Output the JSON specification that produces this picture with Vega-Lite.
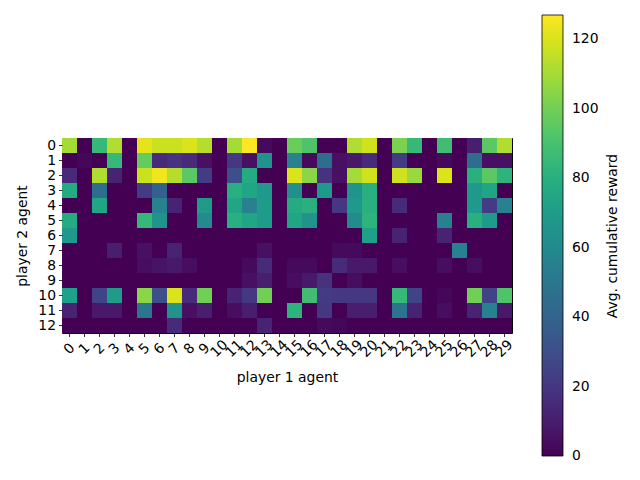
{
  "$schema": "https://vega.github.io/schema/vega-lite/v6.json",
  "width": 450,
  "height": 195,
  "autosize": {"type": "none"},
  "padding": {"left": 62, "top": 138, "right": 128, "bottom": 147},
  "config": {
    "font": "DejaVu Sans",
    "view": {"stroke": "black", "strokeWidth": 1},
    "axis": {"labelFont": "DejaVu Sans", "titleFont": "DejaVu Sans", "labelFontSize": 13.9, "titleFontSize": 13.9, "titleFontWeight": "normal", "labelColor": "black", "titleColor": "black", "tickColor": "black", "tickSize": 3.5, "tickWidth": 0.8, "domain": false, "grid": false},
    "legend": {"labelFont": "DejaVu Sans", "titleFont": "DejaVu Sans", "labelFontSize": 13.9, "titleFontSize": 13.9, "titleFontWeight": "normal", "labelColor": "black", "titleColor": "black"}
  },
  "data": {"values": [
{"p1":0,"p2":0,"reward":110},{"p1":1,"p2":0,"reward":0},{"p1":2,"p2":0,"reward":85},{"p1":3,"p2":0,"reward":112},{"p1":4,"p2":0,"reward":0},{"p1":5,"p2":0,"reward":122},{"p1":6,"p2":0,"reward":117},{"p1":7,"p2":0,"reward":117},{"p1":8,"p2":0,"reward":120},{"p1":9,"p2":0,"reward":113},{"p1":10,"p2":0,"reward":0},{"p1":11,"p2":0,"reward":110},{"p1":12,"p2":0,"reward":127},{"p1":13,"p2":0,"reward":3},{"p1":14,"p2":0,"reward":0},{"p1":15,"p2":0,"reward":98},{"p1":16,"p2":0,"reward":92},{"p1":17,"p2":0,"reward":0},{"p1":18,"p2":0,"reward":0},{"p1":19,"p2":0,"reward":112},{"p1":20,"p2":0,"reward":118},{"p1":21,"p2":0,"reward":0},{"p1":22,"p2":0,"reward":102},{"p1":23,"p2":0,"reward":85},{"p1":24,"p2":0,"reward":0},{"p1":25,"p2":0,"reward":88},{"p1":26,"p2":0,"reward":0},{"p1":27,"p2":0,"reward":10},{"p1":28,"p2":0,"reward":95},{"p1":29,"p2":0,"reward":112},
{"p1":0,"p2":1,"reward":0},{"p1":1,"p2":1,"reward":2},{"p1":2,"p2":1,"reward":0},{"p1":3,"p2":1,"reward":85},{"p1":4,"p2":1,"reward":0},{"p1":5,"p2":1,"reward":97},{"p1":6,"p2":1,"reward":15},{"p1":7,"p2":1,"reward":18},{"p1":8,"p2":1,"reward":15},{"p1":9,"p2":1,"reward":5},{"p1":10,"p2":1,"reward":0},{"p1":11,"p2":1,"reward":20},{"p1":12,"p2":1,"reward":5},{"p1":13,"p2":1,"reward":65},{"p1":14,"p2":1,"reward":0},{"p1":15,"p2":1,"reward":55},{"p1":16,"p2":1,"reward":3},{"p1":17,"p2":1,"reward":45},{"p1":18,"p2":1,"reward":5},{"p1":19,"p2":1,"reward":8},{"p1":20,"p2":1,"reward":15},{"p1":21,"p2":1,"reward":0},{"p1":22,"p2":1,"reward":22},{"p1":23,"p2":1,"reward":0},{"p1":24,"p2":1,"reward":0},{"p1":25,"p2":1,"reward":3},{"p1":26,"p2":1,"reward":0},{"p1":27,"p2":1,"reward":45},{"p1":28,"p2":1,"reward":5},{"p1":29,"p2":1,"reward":5},
{"p1":0,"p2":2,"reward":15},{"p1":1,"p2":2,"reward":0},{"p1":2,"p2":2,"reward":112},{"p1":3,"p2":2,"reward":12},{"p1":4,"p2":2,"reward":0},{"p1":5,"p2":2,"reward":117},{"p1":6,"p2":2,"reward":124},{"p1":7,"p2":2,"reward":113},{"p1":8,"p2":2,"reward":95},{"p1":9,"p2":2,"reward":22},{"p1":10,"p2":2,"reward":0},{"p1":11,"p2":2,"reward":30},{"p1":12,"p2":2,"reward":78},{"p1":13,"p2":2,"reward":0},{"p1":14,"p2":2,"reward":0},{"p1":15,"p2":2,"reward":120},{"p1":16,"p2":2,"reward":105},{"p1":17,"p2":2,"reward":18},{"p1":18,"p2":2,"reward":5},{"p1":19,"p2":2,"reward":110},{"p1":20,"p2":2,"reward":118},{"p1":21,"p2":2,"reward":0},{"p1":22,"p2":2,"reward":118},{"p1":23,"p2":2,"reward":108},{"p1":24,"p2":2,"reward":0},{"p1":25,"p2":2,"reward":120},{"p1":26,"p2":2,"reward":0},{"p1":27,"p2":2,"reward":80},{"p1":28,"p2":2,"reward":95},{"p1":29,"p2":2,"reward":82},
{"p1":0,"p2":3,"reward":78},{"p1":1,"p2":3,"reward":0},{"p1":2,"p2":3,"reward":45},{"p1":3,"p2":3,"reward":0},{"p1":4,"p2":3,"reward":0},{"p1":5,"p2":3,"reward":22},{"p1":6,"p2":3,"reward":38},{"p1":7,"p2":3,"reward":0},{"p1":8,"p2":3,"reward":0},{"p1":9,"p2":3,"reward":0},{"p1":10,"p2":3,"reward":0},{"p1":11,"p2":3,"reward":80},{"p1":12,"p2":3,"reward":75},{"p1":13,"p2":3,"reward":68},{"p1":14,"p2":3,"reward":0},{"p1":15,"p2":3,"reward":62},{"p1":16,"p2":3,"reward":0},{"p1":17,"p2":3,"reward":68},{"p1":18,"p2":3,"reward":0},{"p1":19,"p2":3,"reward":65},{"p1":20,"p2":3,"reward":80},{"p1":21,"p2":3,"reward":0},{"p1":22,"p2":3,"reward":0},{"p1":23,"p2":3,"reward":0},{"p1":24,"p2":3,"reward":0},{"p1":25,"p2":3,"reward":0},{"p1":26,"p2":3,"reward":0},{"p1":27,"p2":3,"reward":68},{"p1":28,"p2":3,"reward":75},{"p1":29,"p2":3,"reward":0},
{"p1":0,"p2":4,"reward":0},{"p1":1,"p2":4,"reward":0},{"p1":2,"p2":4,"reward":75},{"p1":3,"p2":4,"reward":0},{"p1":4,"p2":4,"reward":0},{"p1":5,"p2":4,"reward":0},{"p1":6,"p2":4,"reward":55},{"p1":7,"p2":4,"reward":12},{"p1":8,"p2":4,"reward":0},{"p1":9,"p2":4,"reward":70},{"p1":10,"p2":4,"reward":0},{"p1":11,"p2":4,"reward":75},{"p1":12,"p2":4,"reward":55},{"p1":13,"p2":4,"reward":70},{"p1":14,"p2":4,"reward":0},{"p1":15,"p2":4,"reward":78},{"p1":16,"p2":4,"reward":80},{"p1":17,"p2":4,"reward":0},{"p1":18,"p2":4,"reward":20},{"p1":19,"p2":4,"reward":68},{"p1":20,"p2":4,"reward":80},{"p1":21,"p2":4,"reward":0},{"p1":22,"p2":4,"reward":15},{"p1":23,"p2":4,"reward":0},{"p1":24,"p2":4,"reward":0},{"p1":25,"p2":4,"reward":0},{"p1":26,"p2":4,"reward":0},{"p1":27,"p2":4,"reward":68},{"p1":28,"p2":4,"reward":22},{"p1":29,"p2":4,"reward":55},
{"p1":0,"p2":5,"reward":78},{"p1":1,"p2":5,"reward":0},{"p1":2,"p2":5,"reward":0},{"p1":3,"p2":5,"reward":0},{"p1":4,"p2":5,"reward":0},{"p1":5,"p2":5,"reward":85},{"p1":6,"p2":5,"reward":65},{"p1":7,"p2":5,"reward":0},{"p1":8,"p2":5,"reward":0},{"p1":9,"p2":5,"reward":60},{"p1":10,"p2":5,"reward":0},{"p1":11,"p2":5,"reward":80},{"p1":12,"p2":5,"reward":75},{"p1":13,"p2":5,"reward":70},{"p1":14,"p2":5,"reward":0},{"p1":15,"p2":5,"reward":75},{"p1":16,"p2":5,"reward":65},{"p1":17,"p2":5,"reward":0},{"p1":18,"p2":5,"reward":0},{"p1":19,"p2":5,"reward":60},{"p1":20,"p2":5,"reward":82},{"p1":21,"p2":5,"reward":0},{"p1":22,"p2":5,"reward":0},{"p1":23,"p2":5,"reward":0},{"p1":24,"p2":5,"reward":0},{"p1":25,"p2":5,"reward":55},{"p1":26,"p2":5,"reward":0},{"p1":27,"p2":5,"reward":80},{"p1":28,"p2":5,"reward":70},{"p1":29,"p2":5,"reward":0},
{"p1":0,"p2":6,"reward":68},{"p1":1,"p2":6,"reward":0},{"p1":2,"p2":6,"reward":0},{"p1":3,"p2":6,"reward":0},{"p1":4,"p2":6,"reward":0},{"p1":5,"p2":6,"reward":0},{"p1":6,"p2":6,"reward":0},{"p1":7,"p2":6,"reward":0},{"p1":8,"p2":6,"reward":0},{"p1":9,"p2":6,"reward":0},{"p1":10,"p2":6,"reward":0},{"p1":11,"p2":6,"reward":0},{"p1":12,"p2":6,"reward":0},{"p1":13,"p2":6,"reward":0},{"p1":14,"p2":6,"reward":0},{"p1":15,"p2":6,"reward":0},{"p1":16,"p2":6,"reward":0},{"p1":17,"p2":6,"reward":0},{"p1":18,"p2":6,"reward":0},{"p1":19,"p2":6,"reward":0},{"p1":20,"p2":6,"reward":72},{"p1":21,"p2":6,"reward":0},{"p1":22,"p2":6,"reward":12},{"p1":23,"p2":6,"reward":0},{"p1":24,"p2":6,"reward":0},{"p1":25,"p2":6,"reward":12},{"p1":26,"p2":6,"reward":0},{"p1":27,"p2":6,"reward":0},{"p1":28,"p2":6,"reward":0},{"p1":29,"p2":6,"reward":0},
{"p1":0,"p2":7,"reward":0},{"p1":1,"p2":7,"reward":0},{"p1":2,"p2":7,"reward":0},{"p1":3,"p2":7,"reward":10},{"p1":4,"p2":7,"reward":0},{"p1":5,"p2":7,"reward":5},{"p1":6,"p2":7,"reward":0},{"p1":7,"p2":7,"reward":12},{"p1":8,"p2":7,"reward":0},{"p1":9,"p2":7,"reward":0},{"p1":10,"p2":7,"reward":0},{"p1":11,"p2":7,"reward":0},{"p1":12,"p2":7,"reward":0},{"p1":13,"p2":7,"reward":5},{"p1":14,"p2":7,"reward":0},{"p1":15,"p2":7,"reward":0},{"p1":16,"p2":7,"reward":0},{"p1":17,"p2":7,"reward":0},{"p1":18,"p2":7,"reward":3},{"p1":19,"p2":7,"reward":3},{"p1":20,"p2":7,"reward":0},{"p1":21,"p2":7,"reward":0},{"p1":22,"p2":7,"reward":0},{"p1":23,"p2":7,"reward":0},{"p1":24,"p2":7,"reward":0},{"p1":25,"p2":7,"reward":0},{"p1":26,"p2":7,"reward":55},{"p1":27,"p2":7,"reward":0},{"p1":28,"p2":7,"reward":0},{"p1":29,"p2":7,"reward":0},
{"p1":0,"p2":8,"reward":0},{"p1":1,"p2":8,"reward":0},{"p1":2,"p2":8,"reward":0},{"p1":3,"p2":8,"reward":0},{"p1":4,"p2":8,"reward":0},{"p1":5,"p2":8,"reward":4},{"p1":6,"p2":8,"reward":6},{"p1":7,"p2":8,"reward":8},{"p1":8,"p2":8,"reward":4},{"p1":9,"p2":8,"reward":0},{"p1":10,"p2":8,"reward":0},{"p1":11,"p2":8,"reward":0},{"p1":12,"p2":8,"reward":3},{"p1":13,"p2":8,"reward":15},{"p1":14,"p2":8,"reward":0},{"p1":15,"p2":8,"reward":3},{"p1":16,"p2":8,"reward":3},{"p1":17,"p2":8,"reward":0},{"p1":18,"p2":8,"reward":15},{"p1":19,"p2":8,"reward":8},{"p1":20,"p2":8,"reward":8},{"p1":21,"p2":8,"reward":0},{"p1":22,"p2":8,"reward":4},{"p1":23,"p2":8,"reward":0},{"p1":24,"p2":8,"reward":0},{"p1":25,"p2":8,"reward":4},{"p1":26,"p2":8,"reward":0},{"p1":27,"p2":8,"reward":4},{"p1":28,"p2":8,"reward":0},{"p1":29,"p2":8,"reward":0},
{"p1":0,"p2":9,"reward":0},{"p1":1,"p2":9,"reward":0},{"p1":2,"p2":9,"reward":0},{"p1":3,"p2":9,"reward":0},{"p1":4,"p2":9,"reward":0},{"p1":5,"p2":9,"reward":0},{"p1":6,"p2":9,"reward":0},{"p1":7,"p2":9,"reward":0},{"p1":8,"p2":9,"reward":0},{"p1":9,"p2":9,"reward":0},{"p1":10,"p2":9,"reward":0},{"p1":11,"p2":9,"reward":0},{"p1":12,"p2":9,"reward":5},{"p1":13,"p2":9,"reward":10},{"p1":14,"p2":9,"reward":0},{"p1":15,"p2":9,"reward":4},{"p1":16,"p2":9,"reward":8},{"p1":17,"p2":9,"reward":18},{"p1":18,"p2":9,"reward":0},{"p1":19,"p2":9,"reward":4},{"p1":20,"p2":9,"reward":0},{"p1":21,"p2":9,"reward":0},{"p1":22,"p2":9,"reward":0},{"p1":23,"p2":9,"reward":0},{"p1":24,"p2":9,"reward":0},{"p1":25,"p2":9,"reward":0},{"p1":26,"p2":9,"reward":0},{"p1":27,"p2":9,"reward":0},{"p1":28,"p2":9,"reward":0},{"p1":29,"p2":9,"reward":0},
{"p1":0,"p2":10,"reward":72},{"p1":1,"p2":10,"reward":0},{"p1":2,"p2":10,"reward":25},{"p1":3,"p2":10,"reward":70},{"p1":4,"p2":10,"reward":0},{"p1":5,"p2":10,"reward":105},{"p1":6,"p2":10,"reward":30},{"p1":7,"p2":10,"reward":120},{"p1":8,"p2":10,"reward":15},{"p1":9,"p2":10,"reward":100},{"p1":10,"p2":10,"reward":0},{"p1":11,"p2":10,"reward":12},{"p1":12,"p2":10,"reward":20},{"p1":13,"p2":10,"reward":100},{"p1":14,"p2":10,"reward":0},{"p1":15,"p2":10,"reward":0},{"p1":16,"p2":10,"reward":88},{"p1":17,"p2":10,"reward":22},{"p1":18,"p2":10,"reward":20},{"p1":19,"p2":10,"reward":20},{"p1":20,"p2":10,"reward":20},{"p1":21,"p2":10,"reward":0},{"p1":22,"p2":10,"reward":85},{"p1":23,"p2":10,"reward":25},{"p1":24,"p2":10,"reward":0},{"p1":25,"p2":10,"reward":2},{"p1":26,"p2":10,"reward":0},{"p1":27,"p2":10,"reward":100},{"p1":28,"p2":10,"reward":25},{"p1":29,"p2":10,"reward":92},
{"p1":0,"p2":11,"reward":12},{"p1":1,"p2":11,"reward":0},{"p1":2,"p2":11,"reward":8},{"p1":3,"p2":11,"reward":8},{"p1":4,"p2":11,"reward":0},{"p1":5,"p2":11,"reward":50},{"p1":6,"p2":11,"reward":0},{"p1":7,"p2":11,"reward":65},{"p1":8,"p2":11,"reward":5},{"p1":9,"p2":11,"reward":10},{"p1":10,"p2":11,"reward":0},{"p1":11,"p2":11,"reward":4},{"p1":12,"p2":11,"reward":10},{"p1":13,"p2":11,"reward":0},{"p1":14,"p2":11,"reward":0},{"p1":15,"p2":11,"reward":82},{"p1":16,"p2":11,"reward":0},{"p1":17,"p2":11,"reward":20},{"p1":18,"p2":11,"reward":0},{"p1":19,"p2":11,"reward":10},{"p1":20,"p2":11,"reward":10},{"p1":21,"p2":11,"reward":0},{"p1":22,"p2":11,"reward":48},{"p1":23,"p2":11,"reward":12},{"p1":24,"p2":11,"reward":0},{"p1":25,"p2":11,"reward":4},{"p1":26,"p2":11,"reward":0},{"p1":27,"p2":11,"reward":12},{"p1":28,"p2":11,"reward":55},{"p1":29,"p2":11,"reward":8},
{"p1":0,"p2":12,"reward":0},{"p1":1,"p2":12,"reward":0},{"p1":2,"p2":12,"reward":0},{"p1":3,"p2":12,"reward":0},{"p1":4,"p2":12,"reward":0},{"p1":5,"p2":12,"reward":0},{"p1":6,"p2":12,"reward":0},{"p1":7,"p2":12,"reward":15},{"p1":8,"p2":12,"reward":0},{"p1":9,"p2":12,"reward":0},{"p1":10,"p2":12,"reward":0},{"p1":11,"p2":12,"reward":0},{"p1":12,"p2":12,"reward":0},{"p1":13,"p2":12,"reward":12},{"p1":14,"p2":12,"reward":0},{"p1":15,"p2":12,"reward":0},{"p1":16,"p2":12,"reward":0},{"p1":17,"p2":12,"reward":3},{"p1":18,"p2":12,"reward":2},{"p1":19,"p2":12,"reward":0},{"p1":20,"p2":12,"reward":0},{"p1":21,"p2":12,"reward":0},{"p1":22,"p2":12,"reward":0},{"p1":23,"p2":12,"reward":0},{"p1":24,"p2":12,"reward":0},{"p1":25,"p2":12,"reward":0},{"p1":26,"p2":12,"reward":0},{"p1":27,"p2":12,"reward":0},{"p1":28,"p2":12,"reward":0},{"p1":29,"p2":12,"reward":0}
  ]},
  "mark": {"type": "rect"},
  "encoding": {
    "x": {"field": "p1", "type": "ordinal", "title": "player 1 agent",
      "scale": {"domain": [0,1,2,3,4,5,6,7,8,9,10,11,12,13,14,15,16,17,18,19,20,21,22,23,24,25,26,27,28,29], "paddingInner": 0, "paddingOuter": 0},
      "axis": {"labelAngle": -45, "labelAlign": "center", "labelBaseline": "middle", "labelPadding": 12, "titleY": 44, "titleBaseline": "middle"}},
    "y": {"field": "p2", "type": "ordinal", "title": "player 2 agent",
      "scale": {"domain": [0,1,2,3,4,5,6,7,8,9,10,11,12], "paddingInner": 0, "paddingOuter": 0},
      "axis": {"labelAngle": 0, "labelPadding": 3, "titleX": -40, "titleY": 97.5, "titleAlign": "center", "titleBaseline": "middle", "titleAngle": -90}},
    "color": {"field": "reward", "type": "quantitative", "title": "Avg. cumulative reward",
      "scale": {"scheme": "viridis", "domain": [0, 127], "nice": false},
      "legend": {"orient": "none", "legendX": 480, "legendY": -123, "direction": "vertical", "gradientLength": 441, "gradientThickness": 21, "gradientStrokeColor": "black", "gradientStrokeWidth": 0.8, "values": [0,20,40,60,80,100,120], "labelOffset": 9, "labelOverlap": false, "titleOrient": "right", "titleAnchor": "middle", "titleBaseline": "middle", "titlePadding": 14,
        "encoding": {"labels": {"baseline": {"value": "middle"}}, "title": {"angle": {"value": 270}}}}}
  }
}
